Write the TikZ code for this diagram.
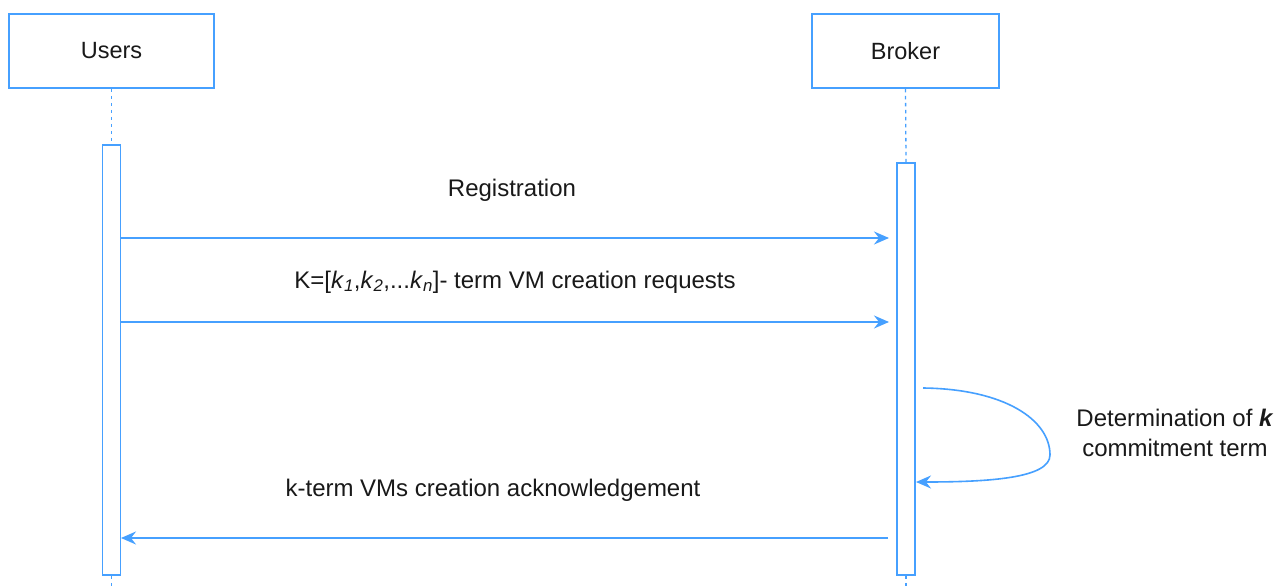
\documentclass[tikz,border=0pt]{standalone}
\usepackage{fontspec}
\setmainfont{Liberation Sans}
\usetikzlibrary{arrows.meta}
\definecolor{lineblue}{RGB}{70,160,255}
\definecolor{txt}{RGB}{25,25,25}
\begin{document}
\begin{tikzpicture}[x=1pt,y=-1pt,
  actor/.style={draw=lineblue,line width=1.6pt,fill=white,minimum width=#1,minimum height=74pt,inner sep=0pt,font=\fontsize{23.5}{27}\selectfont,text=txt},
  actbar/.style={draw=lineblue,line width=1.6pt,fill=white,minimum width=18pt,minimum height=#1,inner sep=0pt},
  life/.style={draw=lineblue,line width=1.3pt,dash pattern=on 3.5pt off 3.5pt},
  msg/.style={draw=lineblue,line width=1.6pt,-{Stealth[length=15pt,width=13pt,inset=5pt]}},
  lbl/.style={font=\fontsize{24}{28}\selectfont,text=txt,inner sep=0pt,align=center}]
\useasboundingbox (0,0) rectangle (1284,586);
\fill[white] (0,0) rectangle (1284,586);
% actors
\node[actor=205pt] (users) at (111.5,51) {Users};
\node[actor=187pt] (broker) at (905.5,51) {Broker};
% activation bars
\node[actbar=430pt] (ua) at (111.5,360) {};
\node[actbar=412pt] (ba) at (906,369) {};
% lifelines
\coordinate (uend) at (111.5,586);
\coordinate (bend) at (906,586);
\draw[life] (users.south) -- (ua.north);
\draw[life] (ua.south) -- (uend);
\draw[life] (broker.south) -- (ba.north);
\draw[life] (ba.south) -- (bend);
% messages
\coordinate (m1s) at (121,238);
\coordinate (m1e) at (889,238);
\coordinate (m2s) at (121,322);
\coordinate (m2e) at (889,322);
\coordinate (m3s) at (888,538);
\coordinate (m3e) at (121,538);
\coordinate (lps) at (923,388);
\coordinate (lpm) at (1050,455);
\coordinate (lpe) at (916,482);
\draw[msg] (m1s) -- (m1e);
\draw[msg] (m2s) -- (m2e);
\draw[msg] (m3s) -- (m3e);
\draw[msg] (lps) .. controls (1005,389) and (1050,420) .. (lpm) .. controls (1050,478) and (990,482) .. (lpe);
% labels
\node[lbl] (l1) at (512,190) {Registration};
\node[lbl] (l2) at (515,282) {K=[\textit{k}\textsubscript{\textit{1}},\textit{k}\textsubscript{\textit{2}},...\textit{k}\textsubscript{\textit{n}}]- term VM creation requests};
\node[lbl] (l3) at (493,490) {k-term VMs creation acknowledgement};
\node[lbl,font=\fontsize{24}{30}\selectfont] (l4) at (1175,433) {Determination of \textit{\textbf{k}}\\commitment term};
\end{tikzpicture}
\end{document}
